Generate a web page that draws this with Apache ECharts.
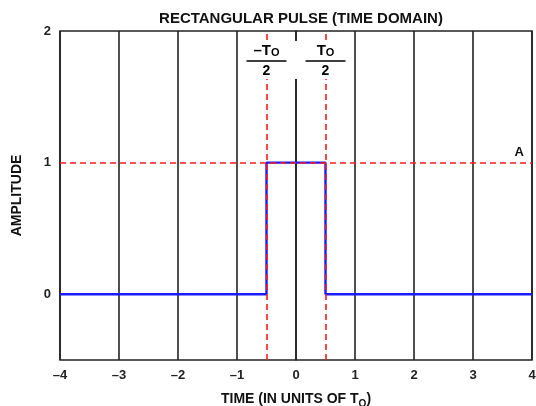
<!DOCTYPE html>
<html><head><meta charset="utf-8">
<script src="https://cdn.jsdelivr.net/npm/echarts@6/dist/echarts.min.js"></script>
<style>html,body{margin:0;padding:0;background:#fff}#c{width:536px;height:406px}</style>
</head><body><div id="c"></div>
<script>
const pulseX = [-4, -0.5, -0.5, 0.5, 0.5, 4];
const pulseY = [0, 0, 1, 1, 0, 0];
const edgeTimes = [-0.5, 0.5];
const amplitudeLevel = 1;
const edgeLabels = ['–T', 'T'];
const edgeLabelY = 1.78;
const gapX = [0];
const xTicks = [-4, -3, -2, -1, 0, 1, 2, 3, 4];
const yTickLabels = [0, 1, 2];

const FONT = '"Liberation Sans", Arial, sans-serif';
const chart = echarts.init(document.getElementById('c'));
const fracRich = {
  t: {fontSize: 15, fontWeight: 'bold', fontFamily: FONT, color: '#000', lineHeight: 16, verticalAlign: 'bottom'},
  s: {fontSize: 11, fontWeight: 'bold', fontFamily: FONT, color: '#000', lineHeight: 16, padding: [7, 0, 0, 0]},
  bar: {width: 40, height: 1.5, backgroundColor: '#000', lineHeight: 6},
  d: {fontSize: 14, fontWeight: 'bold', fontFamily: FONT, color: '#000', lineHeight: 14}
};
chart.setOption({
  animation: false,
  title: {text: 'RECTANGULAR PULSE (TIME DOMAIN)', left: 296, top: 6, textAlign: 'center',
    textStyle: {fontSize: 15, fontWeight: 'bold', fontFamily: FONT, color: '#111'}},
  grid: {left: 60, right: 4, top: 31, bottom: 46, show: true, borderColor: '#222', borderWidth: 1.5,
    containLabel: false, outerBoundsMode: 'none'},
  xAxis: {type: 'value', min: -4, max: 4, interval: 1,
    axisLine: {show: false}, axisTick: {show: false},
    splitLine: {show: true, lineStyle: {color: '#222', width: 1.6}},
    axisLabel: {margin: 9, fontSize: 13, fontWeight: 'bold', fontFamily: FONT, color: '#222',
      formatter: v => xTicks.includes(v) ? String(v).replace('-', '–') : ''},
    name: 'TIME (IN UNITS OF T{sub|O})', nameLocation: 'middle', nameGap: 30,
    nameTextStyle: {fontSize: 14, fontWeight: 'bold', fontFamily: FONT, color: '#111',
      rich: {sub: {fontSize: 10, fontWeight: 'bold', fontFamily: FONT, color: '#111', padding: [9, 0, 0, 0]}}}
  },
  yAxis: {type: 'value', min: -0.5, max: 2, interval: 0.5,
    axisLine: {show: true, lineStyle: {color: '#222', width: 1.6}}, axisTick: {show: false},
    splitLine: {show: false},
    axisLabel: {margin: 9, fontSize: 13, fontWeight: 'bold', fontFamily: FONT, color: '#222',
      formatter: v => yTickLabels.includes(v) ? String(v) : ''},
    name: 'AMPLITUDE', nameLocation: 'middle', nameGap: 36,
    nameTextStyle: {fontSize: 14, fontWeight: 'bold', fontFamily: FONT, color: '#111'}
  },
  series: [
    {type: 'line', data: pulseX.map((x, i) => [x, pulseY[i]]), symbol: 'none', z: 3,
      lineStyle: {color: '#1a1aff', width: 2.4},
      markLine: {silent: true, symbol: 'none', z: 4,
        lineStyle: {color: '#ff1a1a', type: [6, 4], width: 1.6},
        label: {show: false},
        data: [
          ...edgeTimes.map(t => ({xAxis: t})),
          {yAxis: amplitudeLevel, label: {show: true, position: 'insideEndTop', formatter: 'A', distance: [8, 4],
            fontSize: 13, fontWeight: 'bold', fontFamily: FONT, color: '#111'}}
        ]}
    },
    {type: 'scatter', symbol: 'rect', symbolSize: [6, 38], z: 10, silent: true,
      itemStyle: {color: '#fff', opacity: 1},
      data: gapX.map(x => [x, edgeLabelY])
    },
    {type: 'scatter', symbol: 'rect', symbolSize: [46, 38], z: 11, silent: true,
      itemStyle: {color: '#fff', opacity: 1},
      data: edgeTimes.map((t, i) => ({value: [t, edgeLabelY], name: edgeLabels[i]})),
      label: {show: true, position: 'inside', align: 'center',
        formatter: p => '{t|' + p.name + '}{s|O}\n{bar|}\n{d|2}', rich: fracRich}
    }
  ]
});
</script></body></html>
